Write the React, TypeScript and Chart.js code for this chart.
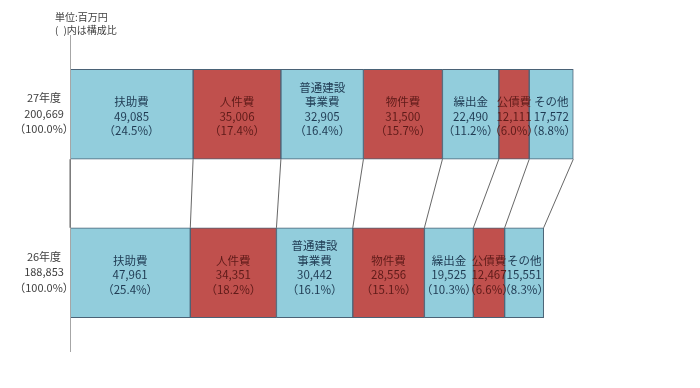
import React, { useEffect, useRef } from "react";
import { Chart, registerables } from "chart.js";

Chart.register(...registerables);

const years = ["27年度", "26年度"];
const yearTotals = [200669, 188853];
const yearTotalPct = ["100.0", "100.0"];
const categories = ["扶助費", "人件費", "普通建設事業費", "物件費", "繰出金", "公債費", "その他"];
const categoryLines = [["扶助費"], ["人件費"], ["普通建設", "事業費"], ["物件費"], ["繰出金"], ["公債費"], ["その他"]];
const values27 = [49085, 35006, 32905, 31500, 22490, 12111, 17572];
const values26 = [47961, 34351, 30442, 28556, 19525, 12467, 15551];
const pct27 = ["24.5", "17.4", "16.4", "15.7", "11.2", "6.0", "8.8"];
const pct26 = ["25.4", "18.2", "16.1", "15.1", "10.3", "6.6", "8.3"];
const unitLines = ["単位:百万円", "(\u2002)内は構成比"];

const BLUE = "#92CDDC";
const RED = "#C0504D";
const FONT = "'Noto Sans CJK JP', 'Noto Sans', sans-serif";

const fmt = (v: number) => v.toLocaleString("en-US");

const overlayPlugin = {
  id: "overlay",
  afterDatasetsDraw(chart: any) {
    const ctx = chart.ctx;
    const area = chart.chartArea;
    ctx.save();
    // axis line
    ctx.strokeStyle = "#A6A6A6";
    ctx.lineWidth = 1;
    ctx.beginPath();
    ctx.moveTo(area.left + 0.5, area.top);
    ctx.lineTo(area.left + 0.5, area.bottom);
    ctx.stroke();

    // connectors
    ctx.strokeStyle = "#404040";
    ctx.lineWidth = 0.8;
    for (let i = 0; i < categories.length; i++) {
      const meta = chart.getDatasetMeta(i);
      const t = meta.data[0];
      const b = meta.data[1];
      const tp = t.getProps(["x", "y", "base", "height"], true);
      const bp = b.getProps(["x", "y", "base", "height"], true);
      if (i === 0) {
        ctx.beginPath();
        ctx.moveTo(tp.base, tp.y + tp.height / 2);
        ctx.lineTo(bp.base, bp.y - bp.height / 2);
        ctx.stroke();
      }
      ctx.beginPath();
      ctx.moveTo(tp.x, tp.y + tp.height / 2);
      ctx.lineTo(bp.x, bp.y - bp.height / 2);
      ctx.stroke();
    }

    // labels inside segments
    ctx.textAlign = "center";
    ctx.textBaseline = "middle";
    ctx.font = `11.5px ${FONT}`;
    const lh = 14.5;
    for (let i = 0; i < categories.length; i++) {
      const meta = chart.getDatasetMeta(i);
      for (let j = 0; j < 2; j++) {
        const el = meta.data[j];
        const p = el.getProps(["x", "y", "base", "height"], true);
        const cx = (p.x + p.base) / 2;
        const vals = j === 0 ? values27 : values26;
        const pcts = j === 0 ? pct27 : pct26;
        const lines = [...categoryLines[i], fmt(vals[i]), `（${pcts[i]}%）`];
        ctx.fillStyle = i % 2 === 1 ? "#5E1B19" : "#1F3A52";
        const lastY = p.y + 16.5;
        lines.forEach((ln, k) => {
          ctx.fillText(ln, cx, lastY - (lines.length - 1 - k) * lh);
        });
      }
    }

    // year labels
    ctx.fillStyle = "#404040";
    ctx.font = `11px ${FONT}`;
    for (let j = 0; j < 2; j++) {
      const el = chart.getDatasetMeta(0).data[j];
      const y = el.y;
      const lines = [years[j], fmt(yearTotals[j]), `（${yearTotalPct[j]}%）`];
      lines.forEach((ln, k) => {
        ctx.fillText(ln, 44, y - 0.5 + (k - 1) * 15.5);
      });
    }

    // unit text
    ctx.textAlign = "left";
    ctx.font = `10px ${FONT}`;
    ctx.fillStyle = "#404040";
    ctx.fillText(unitLines[0], 55, 17);
    ctx.fillText(unitLines[1], 55, 30);
    ctx.restore();
  },
};

export default function App() {
  const ref = useRef<HTMLCanvasElement>(null);
  useEffect(() => {
    if (!ref.current) return;
    const chart = new Chart(ref.current, {
      type: "bar",
      data: {
        labels: years,
        datasets: categories.map((c, i) => ({
          label: c,
          data: [values27[i], values26[i]],
          backgroundColor: i % 2 === 1 ? RED : BLUE,
          borderColor: "#4A6276",
          borderWidth: 1,
          borderSkipped: false,
          barThickness: 90,
        })),
      },
      options: {
        indexAxis: "y",
        responsive: false,
        animation: false,
        maintainAspectRatio: false,
        layout: { padding: { left: 70, right: 3, top: 35, bottom: 36 } },
        plugins: { legend: { display: false }, tooltip: { enabled: false } },
        scales: {
          x: { stacked: true, min: 0, max: 250000, display: false },
          y: { stacked: true, display: false },
        },
      },
      plugins: [overlayPlugin],
    } as any);
    return () => chart.destroy();
  }, []);
  return (
    <div style={{ position: "fixed", left: 0, top: 0, width: 700, height: 388, background: "#fff" }}>
      <canvas ref={ref} width={700} height={388} style={{ width: 700, height: 388 }} />
    </div>
  );
}
